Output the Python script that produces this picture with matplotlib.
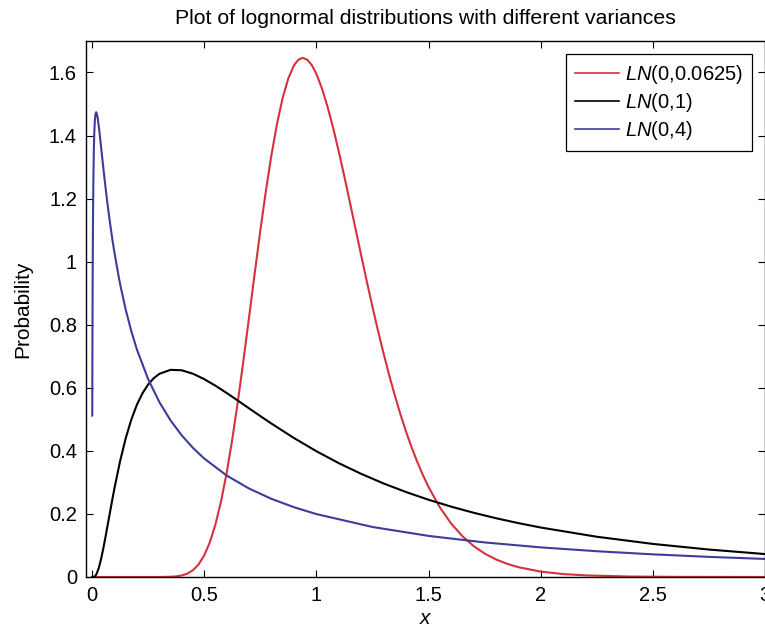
import matplotlib
matplotlib.use("Agg")
import matplotlib.pyplot as plt

plt.rcParams["font.family"] = ["Liberation Sans", "DejaVu Sans"]
plt.rcParams["mathtext.fontset"] = "custom"
plt.rcParams["mathtext.it"] = "Liberation Sans:italic"
plt.rcParams["mathtext.rm"] = "Liberation Sans"

# LN(0,0.0625) density
x_red = [0.001, 0.1, 0.2, 0.3, 0.35, 0.375, 0.4, 0.425, 0.45, 0.475, 0.5, 0.525,
         0.55, 0.575, 0.6, 0.625, 0.65, 0.675, 0.7, 0.725, 0.75, 0.775, 0.8,
         0.825, 0.85, 0.875, 0.9, 0.92, 0.94, 0.96, 0.98, 1.0, 1.025, 1.05,
         1.075, 1.1, 1.125, 1.15, 1.175, 1.2, 1.225, 1.25, 1.275, 1.3, 1.325,
         1.35, 1.375, 1.4, 1.425, 1.45, 1.475, 1.5, 1.55, 1.6, 1.65, 1.7, 1.75,
         1.8, 1.85, 1.9, 2.0, 2.1, 2.2, 2.4, 2.6, 3.0]
y_red = [0.0, 0.0, 0.0, 0.0, 0.0007, 0.0019, 0.0048, 0.0107, 0.0216, 0.0399,
         0.0683, 0.1096, 0.1663, 0.2395, 0.3298, 0.4361, 0.5563, 0.687, 0.8239,
         0.9623, 1.0975, 1.2245, 1.3395, 1.4385, 1.520, 1.5813, 1.6224, 1.6407,
         1.6464, 1.6402, 1.623, 1.5958, 1.5492, 1.4911, 1.4236, 1.349, 1.2694,
         1.1869, 1.1031, 1.0193, 0.937, 0.8571, 0.7805, 0.7077, 0.6392, 0.5751,
         0.5156, 0.4607, 0.4105, 0.3647, 0.3231, 0.2855, 0.2214, 0.1703, 0.1301,
         0.0987, 0.0744, 0.0559, 0.0418, 0.0311, 0.0171, 0.0093, 0.0050, 0.0014,
         0.0004, 0.0]

# LN(0,1) density
x_black = [0.001, 0.005, 0.01, 0.015, 0.02, 0.03, 0.04, 0.05, 0.06, 0.07, 0.08,
           0.09, 0.1, 0.125, 0.15, 0.175, 0.2, 0.225, 0.25, 0.275, 0.3, 0.35,
           0.4, 0.45, 0.5, 0.55, 0.6, 0.65, 0.7, 0.75, 0.8, 0.9, 1.0, 1.1, 1.2,
           1.3, 1.4, 1.5, 1.6, 1.7, 1.8, 1.9, 2.0, 2.25, 2.5, 2.75, 3.0]
y_black = [0.0, 0.0001, 0.001, 0.0039, 0.0095, 0.0284, 0.0561, 0.0898, 0.127,
           0.166, 0.2053, 0.2441, 0.2816, 0.3674, 0.4397, 0.499, 0.5464, 0.5828,
           0.6104, 0.6305, 0.6442, 0.657, 0.6555, 0.6445, 0.6275, 0.6067, 0.5836,
           0.5594, 0.5348, 0.5104, 0.4864, 0.4408, 0.3989, 0.361, 0.327, 0.2965,
           0.2693, 0.245, 0.2233, 0.2039, 0.1865, 0.1709, 0.1569, 0.1276, 0.1049,
           0.0870, 0.0727]

# LN(0,4) density
x_blue = [0.001, 0.0015, 0.002, 0.003, 0.004, 0.005, 0.006, 0.008, 0.01, 0.0125,
          0.015, 0.0183, 0.022, 0.026, 0.03, 0.035, 0.04, 0.05, 0.06, 0.07, 0.08,
          0.09, 0.1, 0.12, 0.125, 0.15, 0.175, 0.2, 0.25, 0.3, 0.35, 0.4, 0.45,
          0.5, 0.6, 0.7, 0.8, 0.9, 1.0, 1.25, 1.5, 1.75, 2.0, 2.25, 2.5, 2.75,
          3.0]
y_blue = [0.512, 0.6737, 0.798, 0.979, 1.1035, 1.193, 1.2617, 1.353, 1.4077,
          1.4472, 1.4668, 1.4739, 1.468, 1.4515, 1.4296, 1.3986, 1.3654, 1.2994,
          1.236, 1.1772, 1.1233, 1.0736, 1.028, 0.9477, 0.9295, 0.848, 0.7797,
          0.7215, 0.6275, 0.5547, 0.4966, 0.449, 0.4093, 0.3757, 0.3218, 0.2805,
          0.2478, 0.2213, 0.1995, 0.1586, 0.1303, 0.1096, 0.0939, 0.0817, 0.0718,
          0.0638, 0.0572]

labels = ["$LN$(0,0.0625)", "$LN$(0,1)", "$LN$(0,4)"]
colors = ["#d4323c", "#000000", "#3c3c9a"]

fig = plt.figure(figsize=(7.65, 6.29), dpi=100)
ax = fig.add_axes([0.1124, 0.0827, 0.8876, 0.8522])

for xs, ys, lab, col in zip([x_red, x_black, x_blue], [y_red, y_black, y_blue], labels, colors):
    ax.plot(xs, ys, color=col, linewidth=1.5, label=lab)

ax.set_xlim(-0.027, 3.0)
ax.set_ylim(0, 1.7)
ax.set_xticks([0, 0.5, 1, 1.5, 2, 2.5, 3])
ax.set_xticklabels(["0", "0.5", "1", "1.5", "2", "2.5", "3"])
ax.set_yticks([0, 0.2, 0.4, 0.6, 0.8, 1, 1.2, 1.4, 1.6])
ax.set_yticklabels(["0", "0.2", "0.4", "0.6", "0.8", "1", "1.2", "1.4", "1.6"])
ax.tick_params(direction="in", top=True, right=True, length=5, width=0.8,
               labelsize=14.5, pad=6.5)
for s in ax.spines.values():
    s.set_linewidth(1.0)

ax.set_xlabel("$x$", fontsize=15, labelpad=3)
ax.set_ylabel("Probability", fontsize=15, labelpad=12)
ax.set_title("Plot of lognormal distributions with different variances",
             fontsize=15.3, pad=12)

leg = ax.legend(loc="upper right", fontsize=14.5, handlelength=2.15,
                handletextpad=0.3, borderpad=0.45, labelspacing=0.25,
                fancybox=False, edgecolor="black", framealpha=1,
                borderaxespad=0.65)
leg.get_frame().set_linewidth(0.9)
for line in leg.get_lines():
    line.set_linewidth(1.2)

fig.savefig("out.png", dpi=100)
